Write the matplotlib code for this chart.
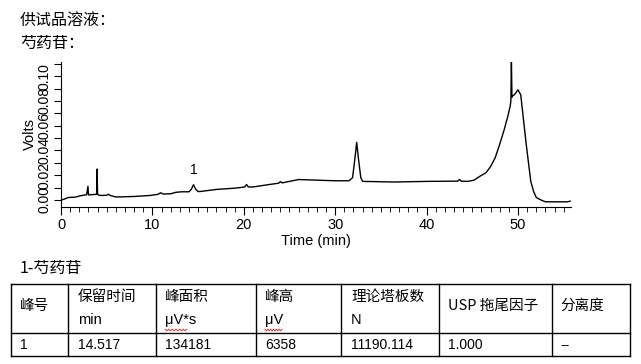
import matplotlib
matplotlib.use("Agg")
import matplotlib.pyplot as plt
import numpy as np
from matplotlib.ticker import MultipleLocator, FixedLocator

plt.rcParams['font.family'] = ['Liberation Sans', 'Noto Sans CJK SC', 'DejaVu Sans']

# ---- chromatogram data ----
time_min = [0.0, 0.3, 0.8, 1.5, 2.2, 2.8, 2.95, 3.0, 3.05, 3.2, 3.8, 3.9, 3.95, 4.0, 4.1, 4.3,
            5.0, 5.2, 5.4, 6.0, 8.0, 9.7, 10.6, 10.9, 11.2, 12.0, 12.6, 13.2, 14.0, 14.25,
            14.5, 14.75, 15.0, 15.2, 17.0, 19.0, 20.1, 20.3, 20.5, 21.0, 23.0, 23.8, 24.0,
            24.2, 26.0, 28.0, 30.0, 31.5, 31.9, 32.15, 32.35, 32.55, 32.8, 33.0, 36.5, 40.0,
            43.4, 43.6, 43.8, 44.5, 45.2, 45.8, 46.5, 47.0, 47.5, 48.0, 48.5, 48.9, 49.15,
            49.22, 49.28, 49.34, 49.4, 49.6, 50.0, 50.3, 50.6, 50.9, 51.1, 51.4, 51.7, 52.0,
            52.5, 53.0, 55.4, 55.7]
volts = [0.000, 0.0005, 0.002, 0.0022, 0.0035, 0.0042, 0.011, 0.0045, 0.004, 0.0042, 0.0045,
         0.0046, 0.025, 0.005, 0.004, 0.0036, 0.0038, 0.0046, 0.0036, 0.0024, 0.0028, 0.0036,
         0.0045, 0.0058, 0.0048, 0.005, 0.0062, 0.0066, 0.0066, 0.0085, 0.0123, 0.0085,
         0.0068, 0.0068, 0.0085, 0.0095, 0.0105, 0.0125, 0.0105, 0.0105, 0.0127, 0.0135,
         0.0148, 0.0138, 0.0165, 0.016, 0.0155, 0.0155, 0.018, 0.033, 0.0465, 0.033, 0.018,
         0.015, 0.0145, 0.015, 0.0152, 0.0165, 0.0152, 0.015, 0.016, 0.019, 0.022, 0.027,
         0.034, 0.045, 0.057, 0.068, 0.076, 0.08, 0.113, 0.083, 0.084, 0.085, 0.089, 0.085,
         0.065, 0.045, 0.033, 0.015, 0.007, 0.002, 0.000, -0.0015, -0.0015, -0.001]

y_ticks = [round(0.01 * i, 2) for i in range(0, 12)]
y_tick_labels = ["0.00", "", "0.02", "", "0.04", "", "0.06", "", "0.08", "", "0.10", ""]

peak_label = "1"
peak_time = 14.5
peak_label_volts = 0.0185

title_lines = ["供试品溶液：", "芍药苷："]
table_title = "1-芍药苷"
header_top = ["峰号", "保留时间", "峰面积", "峰高", "理论塔板数", "USP 拖尾因子", "分离度"]
header_unit = ["", "min", "μV*s", "μV", "N", "", ""]
row_values = ["1", "14.517", "134181", "6358", "11190.114", "1.000", "--"]

W, H = 641, 364
fig = plt.figure(figsize=(W / 100, H / 100), dpi=100)

# chart axes
ax = fig.add_axes([61 / W, 1 - 207 / H, (571 - 61) / W, (207 - 62) / H])
ax.plot(time_min, volts, color='black', lw=1.0)
ax.set_xlim(0, 55.8)
ax.set_ylim(-0.0057, 0.1115)
ax.spines['top'].set_visible(False)
ax.spines['right'].set_visible(False)
ax.xaxis.set_major_locator(MultipleLocator(10))
ax.xaxis.set_minor_locator(MultipleLocator(1))
ax.yaxis.set_major_locator(FixedLocator(y_ticks))
ax.set_yticklabels(y_tick_labels, rotation=90, va='center', fontsize=10)
ax.tick_params(axis='x', which='major', length=6, labelsize=10.5, pad=2)
ax.tick_params(axis='x', which='minor', length=3.5)
ax.tick_params(axis='y', which='major', length=5, pad=2)
ax.set_xlabel("Time (min)", fontsize=10.5, labelpad=1)
ax.set_ylabel("Volts", fontsize=10.5, labelpad=0)
ax.text(peak_time, peak_label_volts, peak_label, ha='center', va='bottom', fontsize=10)

# overlay axes in pixel units for text and table
ov = fig.add_axes([0, 0, 1, 1])
ov.set_xlim(0, W)
ov.set_ylim(H, 0)
ov.axis('off')
ov.patch.set_alpha(0)

cjk = ['Noto Sans CJK SC', 'Liberation Sans']
ov.text(20, 20, title_lines[0], fontsize=11.5, va='center', ha='left', family=cjk)
ov.text(20, 43, title_lines[1], fontsize=11.5, va='center', ha='left', family=cjk)
ov.text(20, 268, table_title, fontsize=11.5, va='center', ha='left', family=cjk)

col_edges = [11, 68, 156, 256, 341, 439, 552, 630]
row_edges = [284, 333, 356]
for xe in col_edges:
    ov.plot([xe, xe], [row_edges[0], row_edges[-1]], color='black', lw=1)
for ye in row_edges:
    ov.plot([col_edges[0], col_edges[-1]], [ye, ye], color='black', lw=1)

text_x = [20, 78, 165, 265, 351, 448, 560]
tfont = ['Noto Sans CJK SC', 'Liberation Sans']
for i in range(len(header_top)):
    if header_unit[i]:
        ov.text(text_x[i], 297, header_top[i], fontsize=10.5, va='center', ha='left', family=tfont)
        ov.text(text_x[i], 320, header_unit[i], fontsize=10.5, va='center', ha='left',
                family=['Liberation Sans', 'Noto Sans CJK SC'])
    else:
        ov.text(text_x[i], 306, header_top[i], fontsize=10.5, va='center', ha='left', family=tfont)
    ov.text(text_x[i], 345, row_values[i], fontsize=10, va='center', ha='left',
            family=['Liberation Sans', 'Noto Sans CJK SC'])

# spell-check squiggles under units
for i in (2, 3):
    x0 = text_x[i]
    x1 = x0 + (22 if i == 2 else 17)
    xs = np.linspace(x0, x1, 13)
    ys = 330 + np.where(np.arange(13) % 2 == 0, -0.8, 0.8)
    ov.plot(xs, ys, color='#d03030', lw=0.7)

fig.savefig("out.png", dpi=100)
